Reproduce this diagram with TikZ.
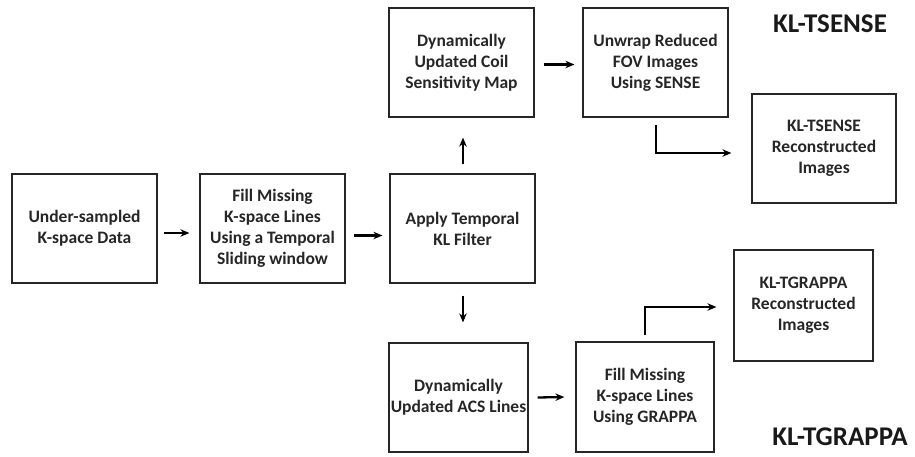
\documentclass[tikz,border=0pt]{standalone}
\usepackage{fontspec}
\setmainfont{Carlito}
\usetikzlibrary{arrows.meta}
\begin{document}
\begin{tikzpicture}[x=1pt,y=-1pt,
  blk/.style={draw=black!85,line width=1.2pt,align=center,font=\bfseries\fontsize{17.5}{21}\selectfont,text=black!85,inner sep=0pt},
  arr/.style={line width=2.3pt,draw=black,-{Stealth[length=9pt,width=7.5pt]}},
  big/.style={font=\bfseries\fontsize{27}{31}\selectfont,text=black!90,inner sep=0pt}]
\useasboundingbox (0,0) rectangle (915,456);
\node[blk,minimum width=145pt,minimum height=109pt] (b1) at (84.5,228.5) {Under-sampled\\K-space Data};
\node[blk,minimum width=145pt,minimum height=109pt] (b2) at (272.5,228.5) {Fill Missing\\K-space Lines\\Using a Temporal\\Sliding window};
\node[blk,minimum width=145pt,minimum height=109pt] (b3) at (462.5,228.5) {Apply Temporal\\KL Filter};
\node[blk,minimum width=145pt,minimum height=109pt] (b4) at (461.5,62.5) {Dynamically\\Updated Coil\\Sensitivity Map};
\node[blk,minimum width=145pt,minimum height=109pt] (b5) at (655.5,62.5) {Unwrap Reduced\\FOV Images\\Using SENSE};
\node[blk,minimum width=144pt,minimum height=109pt] (b6) at (824,148.5) {KL-TSENSE\\Reconstructed\\Images};
\node[blk,minimum width=139pt,minimum height=109pt] (b7) at (458.5,397.5) {Dynamically\\Updated ACS Lines};
\node[blk,minimum width=138pt,minimum height=110pt] (b8) at (645,397) {Fill Missing\\K-space Lines\\Using GRAPPA};
\node[blk,minimum width=139pt,minimum height=111pt] (b9) at (803.5,305.5) {KL-TGRAPPA\\Reconstructed\\Images};
\node[big] (t1) at (830,24) {KL-TSENSE};
\node[big] (t2) at (840,437) {KL-TGRAPPA};
\coordinate (s1) at (656,125);
\coordinate (c1) at (656,153);
\coordinate (s2) at (645,335);
\coordinate (c2) at (645,307);
\draw[arr] ([xshift=6pt,yshift=-4.5pt]b1.east) -- ([xshift=-10pt,yshift=-4.5pt]b2.west);
\draw[arr] ([xshift=8pt,yshift=-7pt]b2.east) -- ([xshift=-7pt,yshift=-7pt]b3.west);
\draw[arr] ([xshift=0.5pt,yshift=9pt]b3.north) -- ([xshift=1.5pt,yshift=-20pt]b4.south);
\draw[arr] ([xshift=0.5pt,yshift=-12pt]b3.south) -- ([xshift=4.5pt,yshift=20pt]b7.north);
\draw[arr] ([xshift=9pt,yshift=-2pt]b4.east) -- ([xshift=-8pt,yshift=-2pt]b5.west);
\draw[arr] ([xshift=9pt]b7.east) -- ([xshift=-11pt]b8.west);
\draw[arr] (s1) -- (c1) -- ([xshift=-20pt]b6.west |- c1);
\draw[arr] (s2) -- (c2) -- ([xshift=-17pt]b9.west |- c2);
\end{tikzpicture}
\end{document}
